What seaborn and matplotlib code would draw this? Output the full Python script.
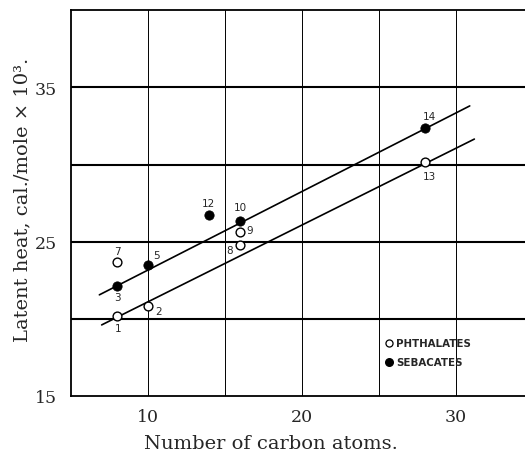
import pandas as pd
import numpy as np
import matplotlib
matplotlib.use("Agg")
import matplotlib.pyplot as plt
import seaborn as sns

# point data
ids = ["1", "2", "7", "8", "9", "13", "3", "5", "12", "10", "14"]
carbons = [8, 10, 8, 16, 16, 28, 8, 10, 14, 16, 28]
latent = [20.15, 20.8, 23.7, 24.8, 25.6, 30.15, 22.1, 23.5, 26.7, 26.35, 32.4]
kind = ["PHTHALATES"] * 6 + ["SEBACATES"] * 5

# fitted lines (ends as drawn)
fit_x = [7.0, 31.2]
fit_phth = [19.6, 31.65]
fit_seb_x = [6.85, 30.9]
fit_seb = [21.55, 33.8]

# label offsets in points
offsets = {"1": (1, -8), "2": (8, -3), "7": (0, 8), "8": (-8, -4), "9": (7, 2),
           "13": (3, -10), "3": (0, -8), "5": (6, 7), "12": (-1, 9),
           "10": (0, 10), "14": (3, 8)}

df = pd.DataFrame({"id": ids, "carbons": carbons, "latent": latent, "kind": kind})

sns.set_style("white")
plt.rcParams["font.family"] = ["DejaVu Serif"]

fig = plt.figure(figsize=(5.25, 4.52), dpi=100)
ax = fig.add_axes([0.135, 0.122, 0.88, 0.853])

for y in [20, 25, 30, 35]:
    ax.axhline(y, color="black", lw=1.5, zorder=1)
for x in [10, 15, 20, 25, 30]:
    ax.axvline(x, color="black", lw=0.7, zorder=1)

sns.lineplot(x=fit_x, y=fit_phth, color="black", lw=1.2, ax=ax, zorder=2)
sns.lineplot(x=fit_seb_x, y=fit_seb, color="black", lw=1.2, ax=ax, zorder=2)

ph = df[df.kind == "PHTHALATES"]
se = df[df.kind == "SEBACATES"]
sns.scatterplot(data=ph, x="carbons", y="latent", marker="o", s=40,
                facecolor="white", edgecolor="black", linewidth=1.0, ax=ax, zorder=3)
sns.scatterplot(data=se, x="carbons", y="latent", marker="o", s=45,
                color="black", edgecolor="black", ax=ax, zorder=3)

for _, r in df.iterrows():
    dx, dy = offsets[r["id"]]
    ax.annotate(r["id"], (r["carbons"], r["latent"]), xytext=(dx, dy),
                textcoords="offset points", ha="center", va="center",
                fontsize=7.5, family="DejaVu Sans")

# legend drawn as text next to markers
ax.scatter([25.65], [18.4], s=26, facecolor="white", edgecolor="black", lw=0.9, zorder=3)
ax.scatter([25.65], [17.2], s=30, color="black", zorder=3)
ax.text(26.1, 18.4, "PHTHALATES", fontsize=7.4, fontweight="bold",
        family="DejaVu Sans", va="center")
ax.text(26.1, 17.2, "SEBACATES", fontsize=7.4, fontweight="bold",
        family="DejaVu Sans", va="center")

ax.set_xlim(5, 35)
ax.set_ylim(15, 40)
ax.set_xticks([10, 20, 30])
ax.set_yticks([15, 25, 35])
ax.tick_params(axis="x", length=0, labelsize=12.5, pad=9)
ax.tick_params(axis="y", length=0, labelsize=12.5, pad=10)
ax.set_xlabel("Number of carbon atoms.", fontsize=14, va="center")
ax.xaxis.set_label_coords(0.433, -0.122)
ax.set_ylabel("Latent heat, cal./mole × 10³.", fontsize=14, va="center")
ax.yaxis.set_label_coords(-0.105, 0.51)
for s in ax.spines.values():
    s.set_color("black")
    s.set_linewidth(1.3)

fig.savefig("out.png", dpi=100)
